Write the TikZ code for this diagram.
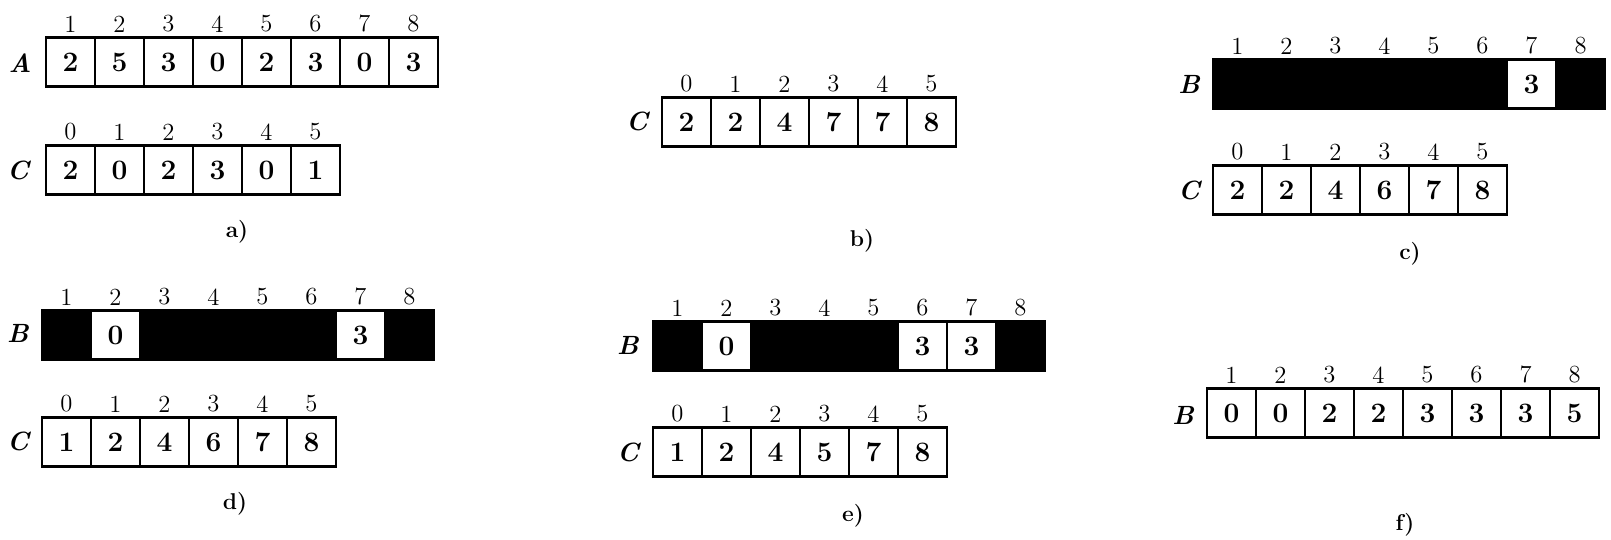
\documentclass[tikz,border=0pt]{standalone}
\usetikzlibrary{positioning}

% one row of an array: name, left x, centre y, first index, entries (style/value)
\newcommand{\sortrow}[5]{%
  \foreach \s/\v [count=\i, evaluate=\i as \k using int(\i+#4-1)] in {#5} {
    \node[\s] (#1\i) at ({#2+(\i-0.5)*49}, #3) {\v};
    \node[idx, above=2pt of #1\i] (#1i\i) {\k};
  }
}

\begin{document}
\begin{tikzpicture}[x=0.02cm, y=-0.02cm,
  val/.style={draw=black, line width=1.5pt, fill=white, rectangle,
              minimum width=0.98cm, minimum height=0.98cm, inner sep=0pt,
              font=\fontsize{16}{18}\selectfont\bfseries},
  blk/.style={val, fill=black},
  idx/.style={inner sep=0pt, font=\fontsize{14}{16}\selectfont},
  arr/.style={font=\fontsize{15}{17}\selectfont\bfseries\itshape},
  sub/.style={font=\fontsize{13}{15}\selectfont\bfseries},
]
\useasboundingbox (0,0) rectangle (1611,539);

% ---- a) input A and the counts C ----
\sortrow{aA}{46}{62}{1}{val/2,val/5,val/3,val/0,val/2,val/3,val/0,val/3}
\sortrow{aC}{46}{170}{0}{val/2,val/0,val/2,val/3,val/0,val/1}
\node[arr] (aAl) at (20,63)  {A};
\node[arr] (aCl) at (18,170) {C};
\node[sub] (asub) at (237,232) {a)};

% ---- b) running sums ----
\sortrow{bC}{662}{122}{0}{val/2,val/2,val/4,val/7,val/7,val/8}
\node[arr] (bCl) at (637,121) {C};
\node[sub] (bsub) at (862,241) {b)};

% ---- c) first element placed ----
\sortrow{cB}{1213}{84}{1}{blk/{},blk/{},blk/{},blk/{},blk/{},blk/{},val/3,blk/{}}
\sortrow{cC}{1213}{190}{0}{val/2,val/2,val/4,val/6,val/7,val/8}
\node[arr] (cBl) at (1189,84)  {B};
\node[arr] (cCl) at (1189,190) {C};
\node[sub] (csub) at (1410,254) {c)};

% ---- d) second element placed ----
\sortrow{dB}{42}{335}{1}{blk/{},val/0,blk/{},blk/{},blk/{},blk/{},val/3,blk/{}}
\sortrow{dC}{42}{442}{0}{val/1,val/2,val/4,val/6,val/7,val/8}
\node[arr] (dBl) at (18,333) {B};
\node[arr] (dCl) at (18,441) {C};
\node[sub] (dsub) at (235,504) {d)};

% ---- e) third element placed ----
\sortrow{eB}{653}{346}{1}{blk/{},val/0,blk/{},blk/{},blk/{},val/3,val/3,blk/{}}
\sortrow{eC}{653}{452}{0}{val/1,val/2,val/4,val/5,val/7,val/8}
\node[arr] (eBl) at (628,345) {B};
\node[arr] (eCl) at (628,452) {C};
\node[sub] (esub) at (853,516) {e)};

% ---- f) sorted output ----
\sortrow{fB}{1207}{413}{1}{val/0,val/0,val/2,val/2,val/3,val/3,val/3,val/5}
\node[arr] (fBl) at (1183,415) {B};
\node[sub] (fsub) at (1405,525) {f)};
\end{tikzpicture}
\end{document}
